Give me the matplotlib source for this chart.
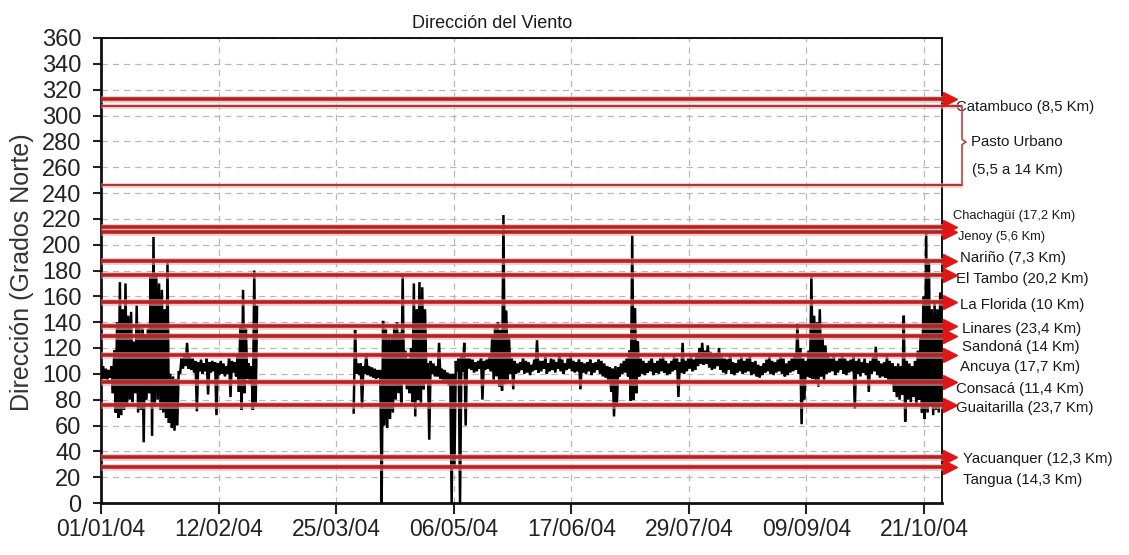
import numpy as np
import pandas as pd
import matplotlib
matplotlib.use("Agg")
import matplotlib.pyplot as plt
import matplotlib.dates as mdates
from matplotlib.transforms import blended_transform_factory

plt.rcParams["font.family"] = ["Liberation Sans", "DejaVu Sans"]

START = pd.Timestamp("2004-01-01")

# Daily minimum / maximum wind direction (degrees from North), first record block
seg1_first_day = 0
seg1_low = [97, 96, 95, 97, 85, 70, 66, 68, 72, 75,
            80, 78, 85, 70, 72, 47, 80, 85, 52, 75,
            80, 72, 70, 66, 62, 58, 56, 60, 100, 104,
            106, 104, 103, 101, 71, 102, 100, 102, 84, 101,
            102, 68, 99, 100, 98, 100, 82, 101, 98, 86,
            72, 85, 96, 92, 72, 75]
seg1_high = [106, 104, 103, 106, 118, 140, 171, 150, 170, 145,
             148, 125, 153, 136, 135, 130, 135, 175, 206, 178,
             170, 165, 150, 186, 100, 98, 96, 102, 112, 114,
             124, 113, 112, 110, 109, 111, 108, 112, 109, 110,
             109, 108, 110, 108, 106, 112, 110, 109, 114, 136,
             165, 135, 108, 106, 180, 152]

# Second record block (after the data gap)
seg2_first_day = 90
seg2_low = [70, 100, 99, 74, 100, 99, 98, 97, 96, 97,
            0, 60, 58, 65, 70, 80, 85, 75, 92, 88,
            85, 78, 67, 80, 75, 88, 95, 49, 100, 98,
            98, 96, 95, 93, 91, 0, 28, 102, 0, 102,
            60, 104, 103, 101, 102, 104, 80, 103, 104, 102,
            95, 98, 90, 87, 92, 95, 100, 88, 100, 101,
            103, 100, 101, 99, 102, 103, 101, 102, 104, 100,
            102, 103, 101, 104, 102, 100, 103, 104, 102, 101,
            102, 88, 101, 100, 102, 99, 101, 103, 100, 98,
            97, 94, 86, 67, 75, 98, 100, 101, 98, 79,
            80, 85, 98, 100, 99, 101, 102, 99, 101, 100,
            102, 101, 99, 100, 102, 103, 82, 101, 100, 102,
            104, 102, 103, 106, 108, 107, 108, 105, 103, 104,
            106, 103, 101, 100, 103, 100, 99, 101, 102, 100,
            101, 102, 99, 100, 98, 97, 99, 101, 102, 100,
            99, 101, 102, 100, 98, 99, 101, 102, 103, 100,
            61, 80, 98, 97, 96, 93, 90, 98, 95, 100,
            101, 102, 99, 101, 103, 100, 99, 101, 102, 73,
            100, 98, 101, 99, 86, 100, 102, 99, 97, 98,
            97, 95, 92, 86, 82, 80, 84, 63, 80, 78,
            82, 75, 80, 70, 65, 70, 75, 68, 72, 70, 75]
seg2_high = [134, 108, 108, 106, 116, 106, 105, 104, 103, 103,
             141, 135, 130, 128, 136, 140, 132, 176, 118, 112,
             120, 170, 150, 171, 167, 150, 108, 110, 108, 106,
             124, 104, 103, 101, 100, 100, 110, 112, 114, 124,
             112, 112, 111, 109, 110, 112, 110, 111, 113, 130,
             136, 140, 134, 223, 149, 128, 112, 110, 108, 109,
             112, 110, 109, 107, 111, 126, 110, 110, 113, 108,
             112, 111, 109, 116, 111, 108, 112, 114, 110, 109,
             111, 109, 108, 109, 111, 108, 109, 111, 110, 108,
             106, 105, 104, 106, 105, 108, 110, 112, 118, 207,
             151, 125, 112, 110, 108, 110, 112, 108, 110, 112,
             113, 110, 108, 110, 114, 112, 109, 124, 110, 112,
             114, 111, 116, 120, 124, 118, 122, 117, 114, 116,
             120, 113, 112, 111, 115, 109, 108, 111, 113, 110,
             112, 114, 109, 110, 107, 106, 108, 111, 113, 110,
             109, 111, 113, 112, 108, 110, 112, 114, 139, 120,
             112, 110, 118, 175, 145, 140, 150, 128, 122, 114,
             112, 114, 110, 112, 116, 112, 110, 111, 113, 110,
             112, 109, 112, 108, 110, 113, 121, 110, 108, 109,
             114, 110, 108, 106, 108, 106, 145, 110, 108, 106,
             110, 118, 130, 160, 209, 186, 150, 155, 150, 163, 145]

# Reference directions towards surrounding towns
station_dir = [313, 214, 210, 187, 176.5, 155.5, 137, 129, 114.5, 93.5, 75.5, 35.5, 27.5]
# Urban area sector bounds
urban_dir = [307, 246]

# Label texts and their vertical anchors (degrees)
label_text = ["Catambuco (8,5 Km)", "Pasto Urbano", "(5,5 a 14 Km)",
              "Chachagüí (17,2 Km)", "Jenoy (5,6 Km)", "Nariño (7,3 Km)",
              "El Tambo (20,2 Km)", "La Florida (10 Km)", "Linares (23,4 Km)",
              "Sandoná (14 Km)", "Ancuya (17,7 Km)", "Consacá (11,4 Km)",
              "Guaitarilla (23,7 Km)", "Yacuanquer (12,3 Km)", "Tangua (14,3 Km)"]
label_y = [306.6, 279.5, 257.8, 222.2, 206, 189.7, 173.4, 153.3, 134.7,
           120.8, 105.3, 88.3, 73.5, 34, 17.8]
label_x = [1.0166, 1.0345, 1.0357, 1.0131, 1.019, 1.0214, 1.0166, 1.0214,
           1.0238, 1.0238, 1.0214, 1.0166, 1.0166, 1.025, 1.025]
label_size = [10.8, 10.8, 10.8, 9.3, 9.3, 10.8, 10.8, 10.8, 10.8, 10.8, 10.8,
              10.8, 10.8, 10.8, 10.8]

tick_labels = ["01/01/04", "12/02/04", "25/03/04", "06/05/04",
               "17/06/04", "29/07/04", "09/09/04", "21/10/04"]
y_ticks = list(range(0, 361, 20))


def zigzag(first_day, low, high):
    t0 = mdates.date2num(START)
    xs, ys = [], []
    for i, (lo, hi) in enumerate(zip(low, high)):
        d = first_day + i
        xs += [t0 + d + 0.25, t0 + d + 0.75]
        ys += [lo, hi]
    return xs, ys


fig = plt.figure(figsize=(11.29, 5.55), dpi=100)
ax = fig.add_axes([101 / 1129, 52 / 555, 841 / 1129, 465 / 555])

for first, lo, hi in [(seg1_first_day, seg1_low, seg1_high),
                      (seg2_first_day, seg2_low, seg2_high)]:
    xs, ys = zigzag(first, lo, hi)
    ax.plot(xs, ys, color="black", lw=1.8, zorder=3, solid_joinstyle="miter")

t0 = mdates.date2num(START)
ax.set_xlim(t0, t0 + 300.4)
ax.set_ylim(0, 360)

tick_pos = [mdates.date2num(pd.to_datetime(s, format="%d/%m/%y")) for s in tick_labels]
ax.set_xticks(tick_pos)
ax.set_xticklabels(tick_labels, fontsize=16.5)
ax.set_yticks(y_ticks)
ax.set_yticklabels([str(v) for v in y_ticks], fontsize=17)
ax.tick_params(axis="y", direction="out", length=6, width=1.5, pad=8, colors="#222222")
ax.tick_params(axis="x", direction="out", length=8, width=1.5, pad=3, colors="#222222")

ax.grid(True, color="#b8b8b8", linestyle=(0, (5, 4)), lw=0.9, zorder=1)
for side in ["left", "bottom"]:
    ax.spines[side].set_linewidth(2.0)
for side in ["top", "right"]:
    ax.spines[side].set_linewidth(1.4)
for sp in ax.spines.values():
    sp.set_color("#111111")

trans = blended_transform_factory(ax.transAxes, ax.transData)

# Direction lines with arrow heads
for v in station_dir:
    ax.plot([0, 1.004], [v, v], transform=trans, color="#eeaaaa", lw=5,
            alpha=0.6, clip_on=False, zorder=4, solid_capstyle="butt")
    ax.plot([0, 1.004], [v, v], transform=trans, color="#b52222", lw=2.6,
            clip_on=False, zorder=5, solid_capstyle="butt")
    ax.plot([1.0095], [v], transform=trans, marker=">", ms=10, color="#e01515",
            mec="#e01515", clip_on=False, zorder=6)

# Urban sector lines and brace
xb, xtip = 1.0238, 1.0285
for v in urban_dir:
    ax.plot([0, xb], [v, v], transform=trans, color="#eeaaaa", lw=3.5,
            alpha=0.6, clip_on=False, zorder=4, solid_capstyle="butt")
    ax.plot([0, xb], [v, v], transform=trans, color="#b03030", lw=1.4,
            clip_on=False, zorder=5, solid_capstyle="butt")
mid = (urban_dir[0] + urban_dir[1]) / 2 + 3
ax.plot([xb, xb, xtip, xb, xb], [urban_dir[0], mid + 2, mid, mid - 2, urban_dir[1]],
        transform=trans, color="#c04040", lw=1.2, clip_on=False, zorder=5)

for txt, y, x, s in zip(label_text, label_y, label_x, label_size):
    ax.text(x, y, txt, transform=trans, fontsize=s, ha="left", va="center",
            color="#1a1a1a", clip_on=False)

fig.text(492 / 1129, 1 - 23 / 555, "Dirección del Viento", fontsize=13,
         ha="center", va="center", color="#1a1a1a")
fig.text(22 / 1129, 1 - 272 / 555, "Dirección (Grados Norte)", fontsize=18,
         rotation=90, ha="center", va="center", color="#333333")

fig.savefig("out.png", dpi=100, facecolor="white")
